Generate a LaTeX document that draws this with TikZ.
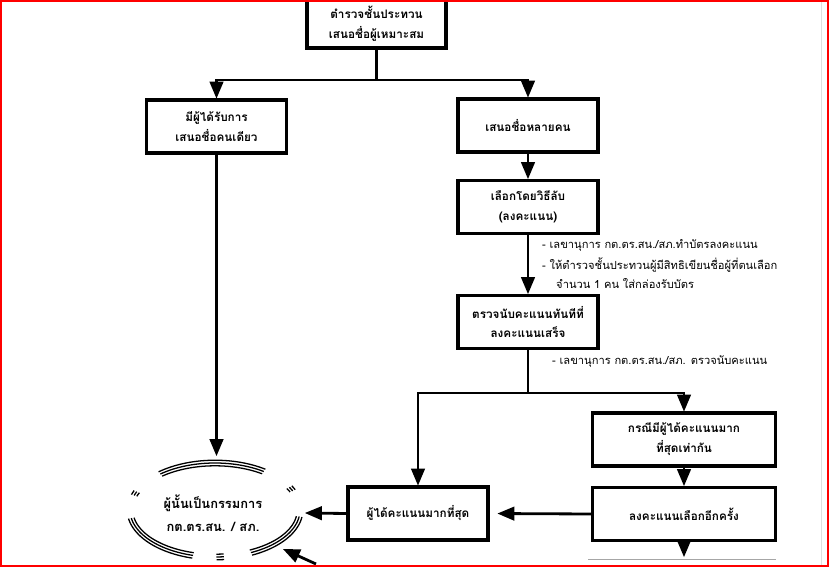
\documentclass[tikz,border=0pt]{standalone}
\usepackage{fontspec}
\newfontfamily\thaifont[Script=Thai]{Loma}
\usetikzlibrary{arrows}

\tikzset{
  box/.style={draw, line width=2.6pt, minimum width=4.2cm, minimum height=1.59cm, align=center, font=\thaifont\bfseries\fontsize{10}{17}\selectfont},
  widebox/.style={box, minimum width=5.5cm},
  note/.style={anchor=west, inner sep=0pt, font=\thaifont\fontsize{9.5}{12}\selectfont},
  link/.style={line width=2.4pt, >=triangle 45},
}

\begin{document}
\begin{tikzpicture}[x=0.03cm, y=-0.03cm]
\useasboundingbox (0,0) rectangle (831,569);
\clip (0,0) rectangle (831,569);

% boxes
\node[box, minimum width=4.17cm, minimum height=1.44cm] (top) at (376.5,24) {ตำรวจชั้นประทวน\\เสนอชื่อผู้เหมาะสม};
\node[box] (one) at (216.5,126.5) {มีผู้ได้รับการ\\เสนอชื่อคนเดียว};
\node[box] (many) at (528,125.5) {เสนอชื่อหลายคน};
\node[box] (secret) at (528,207) {เลือกโดยวิธีลับ\\(ลงคะแนน)};
\node[box] (count) at (528,322) {ตรวจนับคะแนนทันทีที่\\ลงคะแนนเสร็จ};
\node[widebox] (tie) at (684,439.5) {กรณีมีผู้ได้คะแนนมาก\\ที่สุดเท่ากัน};
\node[widebox] (revote) at (684,514) {ลงคะแนนเลือกอีกครั้ง};
\node[box] (most) at (418,513.5) {ผู้ได้คะแนนมากที่สุด};
\node[font=\thaifont\bfseries\fontsize{11}{20}\selectfont, align=center] (member) at (213,513) {ผู้นั้นเป็นกรรมการ\\กต.ตร.สน. / สภ.};

% notes
\node[note] (note1) at (542,245) {- เลขานุการ กต.ตร.สน./สภ.ทำบัตรลงคะแนน};
\node[note] (note2) at (542,265) {- ให้ตำรวจชั้นประทวนผู้มีสิทธิเขียนชื่อผู้ที่ตนเลือก};
\node[note] (note3) at (556,284) {จำนวน 1 คน ใส่กล่องรับบัตร};
\node[note] (note4) at (552,362) {- เลขานุการ กต.ตร.สน./สภ. ตรวจนับคะแนน};

% ring round the result
\foreach \a/\b in {230/305, 198/203, 331/336, 8/65, 105/170, 84/89}
  \foreach \d in {-2.8,0,2.8}
    \draw[line width=1.1pt] plot[domain=\a:\b, samples=30] ({215+(85+\d)*cos(\x)}, {510+(47+\d)*sin(\x)});
\coordinate (ringN) at (216.5,456);
\coordinate (ringE) at (305,513);
\coordinate (ringSE) at (283,549);
\coordinate (back) at (316,564);
\coordinate (next) at (684,557);

% connectors
\draw[link] (top.south) -- (376.5,80) coordinate (fork);
\draw[link,->] (fork) -| (one.north);
\draw[link,->] (fork) -| (many.north);
\draw[link,->] (many.south) -- (secret.north);
\draw[link,->] (secret.south) -- (count.north);
\draw[link] (count.south) -- (528,393) coordinate (fork2);
\draw[link,->] (fork2) -| (most.north);
\draw[link,->] (fork2) -| (tie.north);
\draw[link,->] (tie.south) -- (revote.north);
\draw[link,->, shorten >=0.24cm] (revote.west) -- (most.east);
\draw[link,->] (most.west) -- (ringE);
\draw[link,->] (one.south) -- (ringN);
\draw[link,->] (back) -- (ringSE);
\draw[link,->] (revote.south) -- (next);

\draw[gray!70, line width=0.6pt] (588,559) -- (776,559);
\draw[gray!25, line width=0.5pt] (821,0) -- (821,566);
\draw[red, line width=1.7pt] (1,1) rectangle (827.5,566);
\end{tikzpicture}
\end{document}
